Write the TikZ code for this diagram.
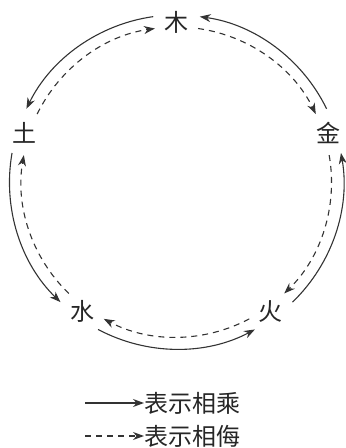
\documentclass[tikz,border=0pt]{standalone}
\usepackage{fontspec}
\newfontfamily\cjk{Noto Sans CJK SC}
\usetikzlibrary{arrows.meta}
\begin{document}
\begin{tikzpicture}[x=1pt,y=1pt,
  lbl/.style={font=\cjk\fontsize{24}{24}\selectfont, text=black!85, inner sep=0pt},
  sol/.style={line width=1.1pt, draw=black!80, -{Stealth[length=11pt,width=8pt]}},
  dsh/.style={sol, dash pattern=on 6pt off 5pt}]
\useasboundingbox (0,0) rectangle (346,448);
\coordinate (O) at (176.5,266);
% element labels
\node[lbl] (mu)   at (176.5,426) {木};
\node[lbl] (jin)  at (328.7,315.4) {金};
\node[lbl] (huo)  at (270.5,136.6) {火};
\node[lbl] (shui) at (82.5,136.6) {水};
\node[lbl] (tu)   at (24.3,315.4) {土};
% solid arcs (xiang cheng), counterclockwise
\draw[sol] (O) ++(98:167)  arc[start angle=98,  end angle=154, radius=167];
\draw[sol] (O) ++(170:167) arc[start angle=170, end angle=226, radius=167];
\draw[sol] (O) ++(242:167) arc[start angle=242, end angle=298, radius=167];
\draw[sol] (O) ++(314:167) arc[start angle=314, end angle=370, radius=167];
\draw[sol] (O) ++(26:167)  arc[start angle=26,  end angle=82,  radius=167];
% dashed arcs (xiang wu), clockwise
\draw[dsh] (O) ++(154:155) arc[start angle=154, end angle=98,  radius=155];
\draw[dsh] (O) ++(82:155)  arc[start angle=82,  end angle=26,  radius=155];
\draw[dsh] (O) ++(10:155)  arc[start angle=10,  end angle=-46, radius=155];
\draw[dsh] (O) ++(298:155) arc[start angle=298, end angle=242, radius=155];
\draw[dsh] (O) ++(226:155) arc[start angle=226, end angle=170, radius=155];
% legend
\node[lbl, anchor=west] (t1) at (144,45) {表示相乘};
\node[lbl, anchor=west] (t2) at (144,12) {表示相侮};
\coordinate (l1) at (85,45);
\coordinate (l2) at (85,12);
\draw[sol] (l1) -- (t1.west);
\draw[dsh] (l2) -- (t2.west);
\end{tikzpicture}
\end{document}
